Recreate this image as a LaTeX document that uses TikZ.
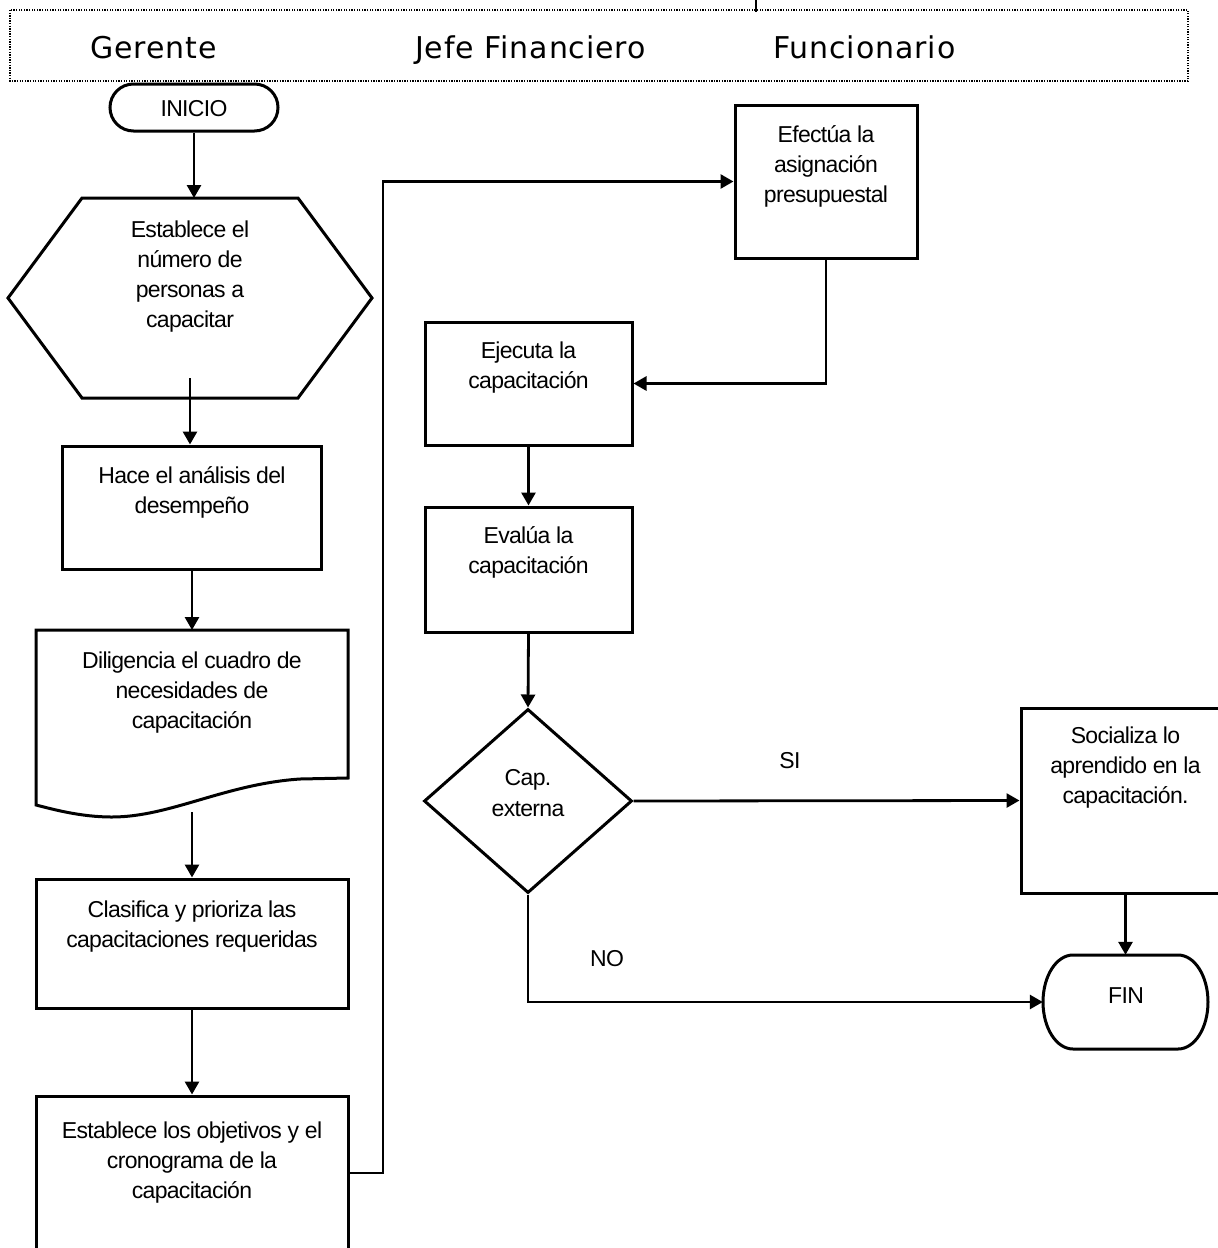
\documentclass[tikz,border=0pt]{standalone}
\usepackage{fontspec}
\usetikzlibrary{shapes.geometric,shapes.misc,arrows.meta}
\newfontfamily\boxfont{Liberation Sans}[LetterSpace=-3]
\newfontfamily\headfont{DejaVu Sans}[LetterSpace=3]
\begin{document}
\begin{tikzpicture}[x=1pt,y=-1pt,
  shapebox/.style={draw, rectangle, inner sep=0pt, line width=3pt},
  outline/.style={line width=3pt, line join=miter},
  txt/.style={inner sep=0pt, align=center, anchor=north,
    font=\boxfont\fontsize{23pt}{30pt}\selectfont},
  lbl/.style={inner sep=0pt, anchor=base, font=\boxfont\fontsize{23pt}{30pt}\selectfont},
  head/.style={inner sep=0pt, anchor=base west, font=\headfont\fontsize{30pt}{36pt}\selectfont},
  flow/.style={-{Triangle[length=13pt,width=14pt]}, line width=2.8pt, line join=miter}]
\useasboundingbox (0,0) rectangle (1218,1248);
\fill[white] (0,0) rectangle (1218,1248);
\clip (0,0) rectangle (1218,1248);

% swimlane header
\draw[line width=1.3pt, dash pattern=on 1.3pt off 1.3pt] (10,10) rectangle (1188,81);
\draw[line width=1.6pt] (756,0) -- (756,12);
\node[head] (hGer) at (90,58) {Gerente};
\node[head] (hJef) at (415,58) {Jefe Financiero};
\node[head] (hFun) at (773,58) {Funcionario};

% start terminal
\node[shapebox, rounded rectangle, minimum width=168pt, minimum height=47pt] (inicio) at (194,107.5) {};
\node[lbl] (tInicio) at (194,116) {INICIO};

% preparation (hexagon)
\coordinate (hexTop) at (194,198);
\coordinate (hexOut) at (190,378);
\draw[outline] (82,198) -- (298,198) -- (372,298) -- (298,398) -- (82,398) -- (8,298) -- cycle;
\node[txt] (tHex) at (190,219) {\rule{0pt}{18pt}Establece el\\número de\\personas a\\capacitar};

% performance analysis
\node[shapebox, minimum width=259pt, minimum height=123pt] (hace) at (192,507.5) {};
\node[txt] (tHace) at (192,465) {\rule{0pt}{18pt}Hace el análisis del\\desempeño};

% document shape
\coordinate (docTop) at (192,630);
\coordinate (docOut) at (192,812);
\draw[outline] (36,630) -- (348,630) -- (348,778) -- (300,779)
  .. controls (225,784) and (170,817) .. (112,817)
  .. controls (80,817) and (52,809) .. (36,805) -- cycle;
\node[txt] (tDoc) at (192,650) {\rule{0pt}{18pt}Diligencia el cuadro de\\necesidades de\\capacitación};

% classification
\node[shapebox, minimum width=312pt, minimum height=129pt] (clas) at (192,943.5) {};
\node[txt] (tClas) at (192,899) {\rule{0pt}{18pt}Clasifica y prioriza las\\capacitaciones requeridas};

% objectives and schedule
\node[shapebox, minimum width=312pt, minimum height=170pt] (estab) at (192,1181) {};
\node[txt] (tEstab) at (192,1120) {\rule{0pt}{18pt}Establece los objetivos y el\\cronograma de la\\capacitación};

% budget assignment
\node[shapebox, minimum width=182pt, minimum height=153pt] (efec) at (826,181.5) {};
\node[txt] (tEfec) at (826,124) {\rule{0pt}{18pt}Efectúa la\\asignación\\presupuestal};

% execution
\node[shapebox, minimum width=207pt, minimum height=123pt] (ejec) at (528.5,383.5) {};
\node[txt] (tEjec) at (528.5,340) {\rule{0pt}{18pt}Ejecuta la\\capacitación};

% evaluation
\node[shapebox, minimum width=207pt, minimum height=125pt] (eval) at (528.5,569.5) {};
\node[txt] (tEval) at (528.5,525) {\rule{0pt}{18pt}Evalúa la\\capacitación};

% decision
\node[draw, diamond, inner sep=0pt, line width=3pt, minimum width=208pt, minimum height=184pt] (dec) at (528,801) {};
\node[txt, font=\boxfont\fontsize{23pt}{31pt}\selectfont] (tDec) at (528,767) {\rule{0pt}{18pt}Cap.\\externa};

% socialization
\node[shapebox, minimum width=209pt, minimum height=185pt] (soc) at (1125.5,800.5) {};
\node[txt] (tSoc) at (1125.5,725) {\rule{0pt}{18pt}Socializa lo\\aprendido en la\\capacitación.};

% end terminal: flat top and bottom, half-ellipse sides
\node[inner sep=0pt, minimum width=165pt, minimum height=94pt] (fin) at (1125.5,1002) {};
\draw[line width=3pt] (1073,955) -- (1178,955)
  .. controls (1194.6,955) and (1208,976) .. (1208,1002)
  .. controls (1208,1028) and (1194.6,1049) .. (1178,1049)
  -- (1073,1049)
  .. controls (1056.4,1049) and (1043,1028) .. (1043,1002)
  .. controls (1043,976) and (1056.4,955) .. (1073,955) -- cycle;
\node[lbl] (tFin) at (1126,1003) {FIN};

% connectors
\draw[flow] (inicio.south) -- (hexTop);
\draw[flow] (hexOut) -- (hexOut |- hace.north);
\draw[flow] (hace.south) -- (docTop);
\draw[flow] (docOut) -- (clas.north);
\draw[flow] (clas.south) -- (estab.north);
\coordinate (j1) at (383,1173);
\draw[flow] (estab.east |- j1) -- (j1) |- (efec.west);
\draw[flow] (efec.south) |- (ejec.east);
\draw[flow] (ejec.south) -- (ejec.south |- eval.north);
\draw[flow] (eval.south) -- (dec.north);
\draw[flow] (dec.east) -- (soc.west);
\draw[flow] (soc.south) -- (fin.north);
\draw[flow] (dec.south) |- (fin.west);

% branch labels
\node[lbl] (lSi) at (790,768) {SI};
\node[lbl] (lNo) at (607,966) {NO};
\end{tikzpicture}
\end{document}
